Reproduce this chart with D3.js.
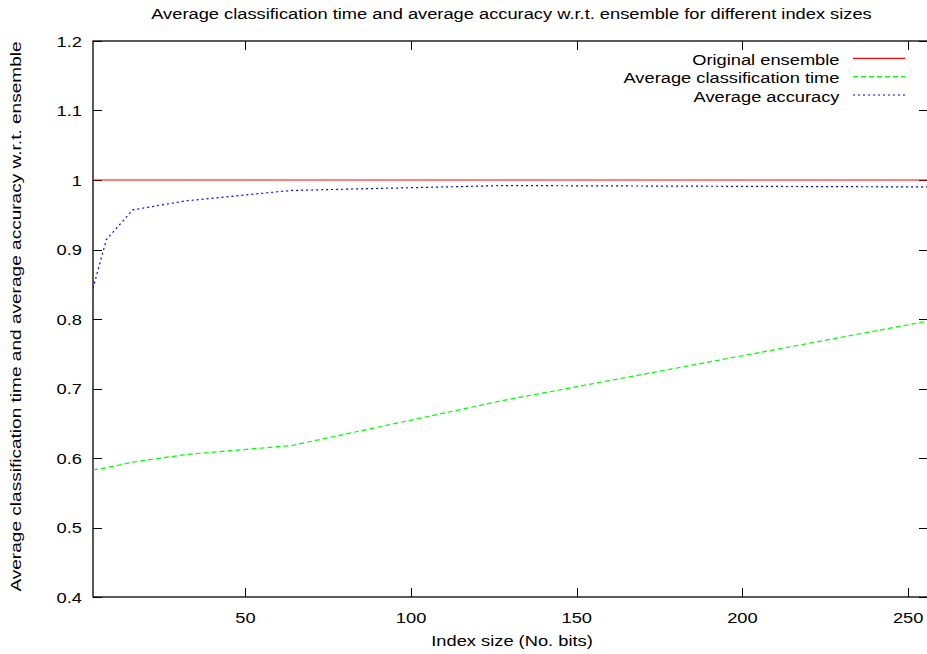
<!DOCTYPE html>
<html>
<head>
<meta charset="utf-8">
<script src="https://cdn.jsdelivr.net/npm/d3@7"></script>
<style>
  body { margin: 0; background: #fff; }
  text { font-family: "Liberation Sans", Arial, sans-serif; fill: #000; }
</style>
</head>
<body>
<script>
// index sizes (bits) and the two measured series, relative to the ensemble
var indexSizes = [4, 8, 16, 32, 64, 128, 256];
var avgTime = [0.583, 0.586, 0.594, 0.605, 0.618, 0.683, 0.797];
var avgAccuracy = [0.844, 0.914, 0.957, 0.970, 0.985, 0.992, 0.990];
var ensembleLevel = 1;
var xTicks = [50, 100, 150, 200, 250];
var yTicks = [0.4, 0.5, 0.6, 0.7, 0.8, 0.9, 1, 1.1, 1.2];
var seriesNames = ["Original ensemble", "Average classification time", "Average accuracy"];

var w = 927, h = 654;
// plot box (window.top is read only, so no "top" here)
var plotL = 93, plotR = 928, plotT = 41, plotB = 597;
// the reference text is wider than it is tall, so stretch it a bit
var fs = 15.5, sx = 1.18;

var svg = d3.select("body").append("svg")
    .attr("width", w)
    .attr("height", h);

var x = d3.scaleLinear().domain([4, 256]).range([plotL, plotR]);
var y = d3.scaleLinear().domain([0.4, 1.2]).range([plotB, plotT]);

function label(px, py, str, anchor, extra){
    svg.append("text")
        .attr("transform", "translate(" + px + "," + py + ")" + (extra || "") + " scale(" + sx + ",1)")
        .attr("text-anchor", anchor)
        .attr("font-size", fs)
        .text(str);
}

// frame
svg.append("rect")
    .attr("x", plotL).attr("y", plotT)
    .attr("width", plotR - plotL).attr("height", plotB - plotT)
    .attr("fill", "none").attr("stroke", "#000").attr("stroke-width", 1.3);

// gnuplot style inward ticks on all four sides
var tl = 9;
svg.selectAll(".xt").data(xTicks).enter().append("path")
    .attr("d", function(d){ var px = Math.round(x(d)) + 0.5;
        return "M" + px + "," + plotB + "v" + (-tl) + "M" + px + "," + plotT + "v" + tl; })
    .attr("stroke", "#000");
svg.selectAll(".yt").data(yTicks).enter().append("path")
    .attr("d", function(d){ var py = Math.round(y(d)) + 0.5;
        return "M" + plotL + "," + py + "h" + tl + "M" + plotR + "," + py + "h" + (-tl); })
    .attr("stroke", "#000");

xTicks.forEach(function(d){ label(x(d), plotB + 25.5, d, "middle"); });
yTicks.forEach(function(d){ label(plotL - 11, y(d) + 5.7, d3.format("~g")(d), "end"); });

// titles
label(511.5, 19, "Average classification time and average accuracy w.r.t. ensemble for different index sizes", "middle");
label(512, 646, "Index size (No. bits)", "middle");
svg.append("text")
    .attr("transform", "translate(21," + 316.5 + ") rotate(-90) scale(1.23,1)")
    .attr("text-anchor", "middle").attr("font-size", fs)
    .text("Average classification time and average accuracy w.r.t. ensemble");

var line = d3.line()
    .x(function(d){ return x(d[0]); })
    .y(function(d){ return y(d[1]); });

svg.append("clipPath").attr("id", "plot")
    .append("rect").attr("x", plotL).attr("y", plotT)
    .attr("width", plotR - plotL).attr("height", plotB - plotT);

var styles = [
    {color: "#ff0000", dash: null},
    {color: "#00ff00", dash: "5,3"},
    {color: "#0000ff", dash: "2,3"}
];
var series = [
    indexSizes.map(function(d){ return [d, ensembleLevel]; }),
    indexSizes.map(function(d, i){ return [d, avgTime[i]]; }),
    indexSizes.map(function(d, i){ return [d, avgAccuracy[i]]; })
];

svg.append("g").attr("clip-path", "url(#plot)")
  .selectAll("path").data(series).enter().append("path")
    .attr("d", line)
    .attr("fill", "none")
    .attr("stroke", function(d, i){ return styles[i].color; })
    .attr("stroke-dasharray", function(d, i){ return styles[i].dash; })
    .attr("stroke-width", 1.2);

// legend
seriesNames.forEach(function(name, i){
    var ly = 58.3 + i * 18.35;
    label(839.5, ly + 6.7, name, "end");
    svg.append("line")
        .attr("x1", 853).attr("x2", 905)
        .attr("y1", ly).attr("y2", ly)
        .attr("stroke", styles[i].color)
        .attr("stroke-dasharray", styles[i].dash)
        .attr("stroke-width", 1.2);
});
</script>
</body>
</html>
